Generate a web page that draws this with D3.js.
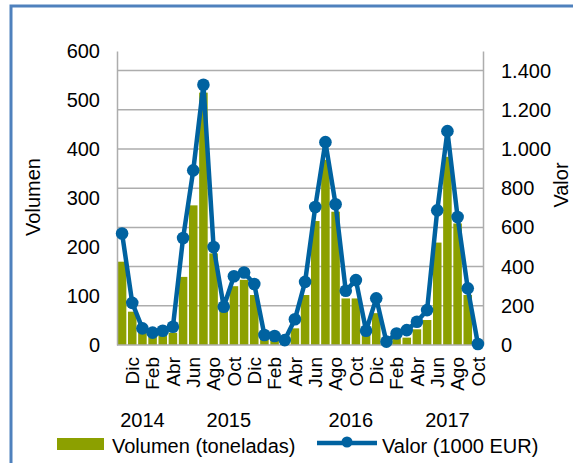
<!DOCTYPE html>
<html>
<head>
<meta charset="utf-8">
<script src="https://d3js.org/d3.v7.min.js"></script>
<style>
  body { margin: 0; background: #fff; }
  svg { display: block; font-family: "Liberation Sans", Arial, sans-serif; }
</style>
</head>
<body>
<svg id="chart" width="573" height="463"></svg>
<script>
// monthly categories, Nov 2014 .. Oct 2017
const meses = ["Nov-14","Dic-14","Ene-15","Feb-15","Mar-15","Abr-15","May-15","Jun-15","Jul-15","Ago-15","Sep-15","Oct-15",
  "Nov-15","Dic-15","Ene-16","Feb-16","Mar-16","Abr-16","May-16","Jun-16","Jul-16","Ago-16","Sep-16","Oct-16",
  "Nov-16","Dic-16","Ene-17","Feb-17","Mar-17","Abr-17","May-17","Jun-17","Jul-17","Ago-17","Sep-17","Oct-17"];

// volumen (toneladas), left axis
const volumen = [170, 68, 40, 25, 30, 25, 139, 285, 515, 187, 75, 120,
  133, 102, 17, 10, 5, 34, 102, 253, 378, 272, 95, 95,
  20, 65, 3, 14, 15, 32, 51, 209, 384, 248, 102, 0];

// valor (1000 EUR), right axis
const valor = [569, 215, 85, 63, 73, 93, 546, 891, 1328, 500, 195, 351,
  370, 311, 51, 46, 25, 131, 322, 704, 1035, 718, 277, 331,
  73, 238, 17, 59, 76, 119, 178, 687, 1091, 653, 289, 5];

const ticksVolumen = [0, 100, 200, 300, 400, 500, 600];
const ticksValor = [0, 200, 400, 600, 800, 1000, 1200, 1400];

// year row under the month labels (month index where each sits)
const anos = ["2014", "2015", "2016", "2017"];
const anoMes = [2.5, 11, 23, 32.5];

const svg = d3.select("#chart");
const mLeft = 117, mRight = 483, mTop = 51, mBottom = 345;
const gridColor = "#adadad";
const barColor = "#8ca000";
const lineColor = "#0062a0";

const fmt = d3.formatLocale({decimal: ",", thousands: ".", grouping: [3], currency: ["", ""]}).format(",");

const x = d3.scaleBand().domain(meses).range([mLeft, mRight]).paddingInner(0.16).paddingOuter(0.08);
const xi = d3.scaleLinear().domain([0, meses.length]).range([mLeft, mRight]);
const yL = d3.scaleLinear().domain([0, 600]).range([mBottom, mTop]);
const yR = d3.scaleLinear().domain([0, 1500]).range([mBottom, mTop]);

// frame
svg.append("rect")
  .attr("x", 11).attr("y", 6).attr("width", 700).attr("height", 700)
  .attr("fill", "none").attr("stroke", "#4f81bd").attr("stroke-width", 3);

// gridlines (right axis)
svg.append("g").selectAll("line")
  .data(ticksValor.slice(1))
  .join("line")
  .attr("x1", mLeft).attr("x2", mRight)
  .attr("y1", d => yR(d)).attr("y2", d => yR(d))
  .attr("stroke", gridColor).attr("stroke-width", 1.5);

// bars
svg.append("g").selectAll("rect")
  .data(volumen)
  .join("rect")
  .attr("x", (d, i) => x(meses[i]))
  .attr("width", x.bandwidth())
  .attr("y", d => yL(d))
  .attr("height", d => mBottom - yL(d))
  .attr("fill", barColor);

// axes
const axL = svg.append("g").attr("transform", `translate(${mLeft},0)`)
  .call(d3.axisLeft(yL).tickValues(ticksVolumen).tickSize(0).tickPadding(17));
const axR = svg.append("g").attr("transform", `translate(${mRight},0)`)
  .call(d3.axisRight(yR).tickValues(ticksValor).tickSize(0).tickPadding(18).tickFormat(fmt));
const axB = svg.append("g").attr("transform", `translate(0,${mBottom})`)
  .call(d3.axisBottom(x).tickValues(meses.filter((d, i) => i % 2 === 1)).tickSize(0).tickFormat(d => d.slice(0, 3)));

[axL, axR, axB].forEach(a => {
  a.select(".domain").attr("stroke", gridColor).attr("stroke-width", 1.5);
  a.selectAll("text").attr("fill", "#000").attr("font-size", 20);
  a.attr("font-family", null);
});
axB.select(".domain").attr("d", `M${mLeft},0H${mRight}`);
axB.selectAll("text")
  .attr("font-size", 19)
  .attr("transform", "rotate(-90)")
  .attr("text-anchor", "end")
  .attr("x", -12).attr("y", 0).attr("dy", "0.35em");

// line + markers
const line = d3.line()
  .x((d, i) => x(meses[i]) + x.bandwidth() / 2)
  .y(d => yR(d));

svg.append("path")
  .datum(valor)
  .attr("d", line)
  .attr("fill", "none").attr("stroke", lineColor).attr("stroke-width", 4.5).attr("stroke-linejoin", "round");

svg.append("g").selectAll("circle")
  .data(valor)
  .join("circle")
  .attr("cx", (d, i) => x(meses[i]) + x.bandwidth() / 2)
  .attr("cy", d => yR(d))
  .attr("r", 6.3)
  .attr("fill", lineColor);

// year labels
svg.append("g").selectAll("text")
  .data(anos)
  .join("text")
  .attr("x", (d, i) => xi(anoMes[i]))
  .attr("y", 427)
  .attr("text-anchor", "middle")
  .attr("font-size", 20)
  .text(d => d);

// axis titles
svg.append("text")
  .attr("transform", "translate(33,197) rotate(-90)")
  .attr("text-anchor", "middle").attr("dy", "0.35em")
  .attr("font-size", 20)
  .text("Volumen");
svg.append("text")
  .attr("transform", "translate(561,185) rotate(-90)")
  .attr("text-anchor", "middle").attr("dy", "0.35em")
  .attr("font-size", 20)
  .text("Valor");

// legend
const lg = svg.append("g");
lg.append("rect").attr("x", 57).attr("y", 438).attr("width", 47).attr("height", 12).attr("fill", barColor);
lg.append("text").attr("x", 112).attr("y", 453).attr("font-size", 20).text("Volumen (toneladas)");
lg.append("line").attr("x1", 317).attr("x2", 377).attr("y1", 443).attr("y2", 443)
  .attr("stroke", lineColor).attr("stroke-width", 4.5);
lg.append("circle").attr("cx", 347).attr("cy", 442).attr("r", 5.5).attr("fill", lineColor);
lg.append("text").attr("x", 382).attr("y", 453).attr("font-size", 20).text("Valor (1000 EUR)");
</script>
</body>
</html>
